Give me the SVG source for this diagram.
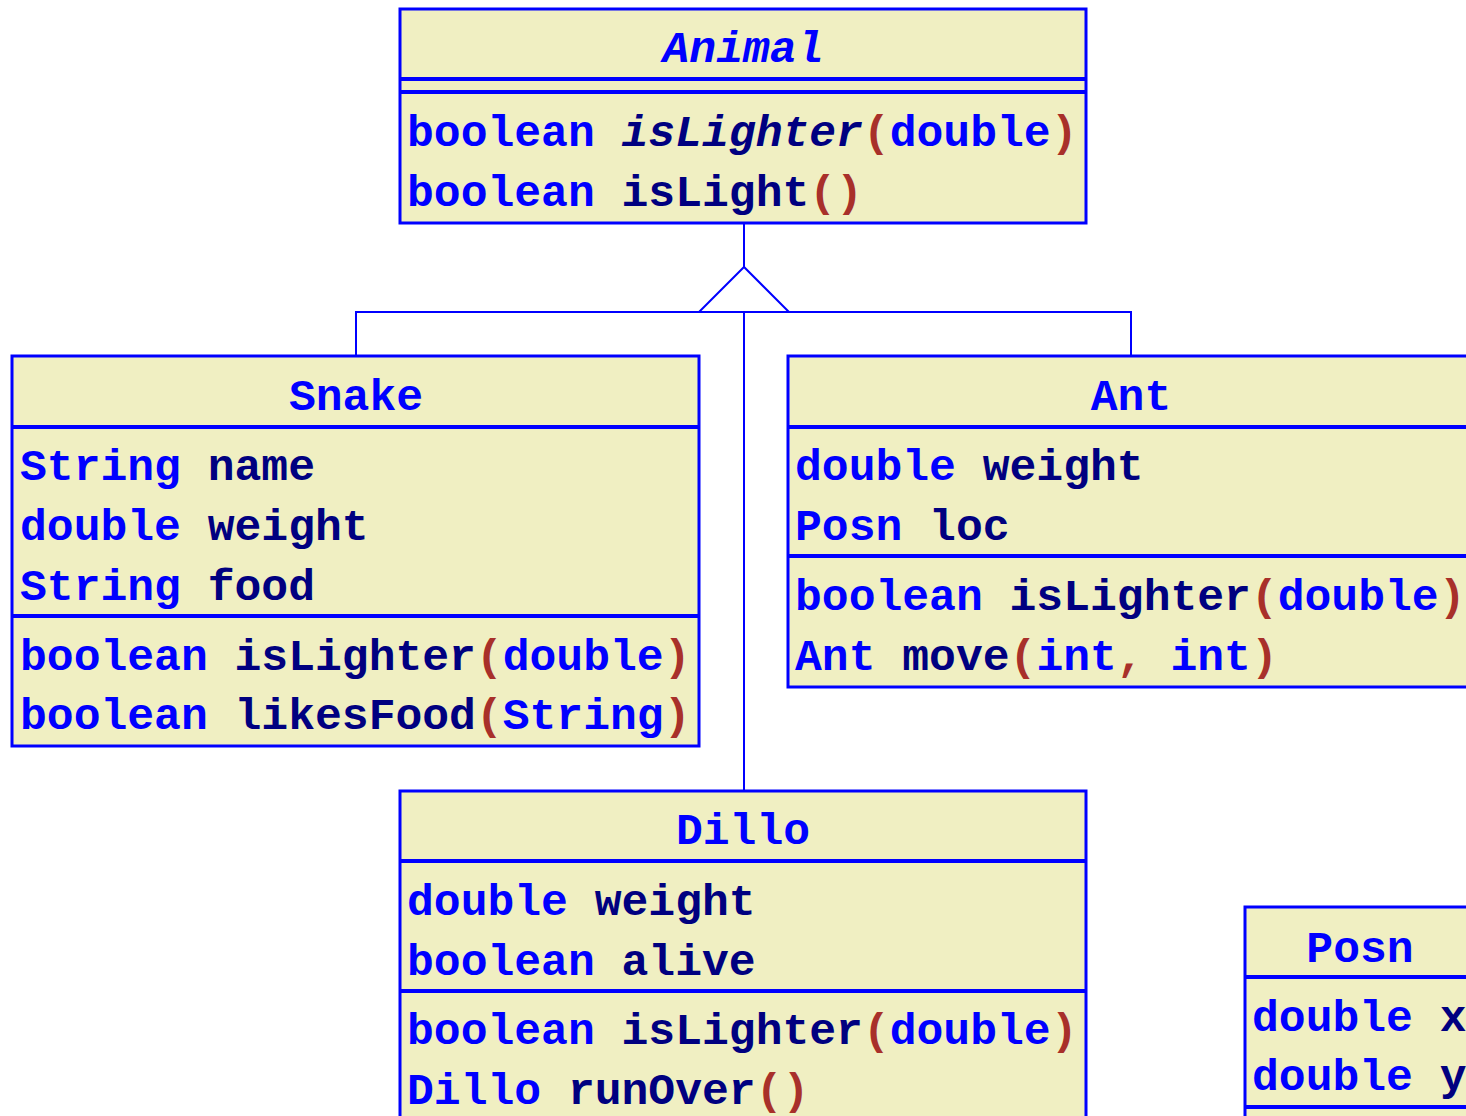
<svg xmlns="http://www.w3.org/2000/svg" width="1466" height="1116" viewBox="0 0 1466 1116">
<style>
.box{fill:#f0efc2;stroke:#0000ff;stroke-width:3}
.sep{stroke:#0000ff;stroke-width:4}
.conn{fill:none;stroke:#0000ff;stroke-width:2}
text{font-family:"Liberation Mono","Courier New",monospace;font-weight:bold;font-size:44.7px;fill:#0000ff}
.t{fill:#0000ff}
.n{fill:#000080}
.p{fill:#a8302a}
.c{text-anchor:middle}
.i{font-style:italic}
</style>
<rect width="1466" height="1116" fill="#ffffff"/>
<g id="connectors">
<line class="conn" x1="744" y1="223" x2="744" y2="267"/>
<polygon class="conn" points="744,267 699,312 789,312"/>
<polyline class="conn" points="356,356 356,312 1131,312 1131,356"/>
<line class="conn" x1="744" y1="312" x2="744" y2="791"/>
</g>
<g id="Animal">
<rect class="box" x="400" y="9" width="686" height="214"/>
<line class="sep" x1="400" y1="79" x2="1086" y2="79"/>
<line class="sep" x1="400" y1="92" x2="1086" y2="92"/>
<text class="c i" x="743" y="62">Animal</text>
<text x="407" y="146"><tspan class="t">boolean </tspan><tspan class="n i">isLighter</tspan><tspan class="p">(</tspan><tspan class="t">double</tspan><tspan class="p">)</tspan></text>
<text x="407" y="206"><tspan class="t">boolean </tspan><tspan class="n">isLight</tspan><tspan class="p">()</tspan></text>
</g>
<g id="Snake">
<rect class="box" x="12" y="356" width="687" height="390"/>
<line class="sep" x1="12" y1="427" x2="699" y2="427"/>
<line class="sep" x1="12" y1="616" x2="699" y2="616"/>
<text class="c" x="356" y="410">Snake</text>
<text x="20" y="480"><tspan class="t">String </tspan><tspan class="n">name</tspan></text>
<text x="20" y="540"><tspan class="t">double </tspan><tspan class="n">weight</tspan></text>
<text x="20" y="600"><tspan class="t">String </tspan><tspan class="n">food</tspan></text>
<text x="20" y="670"><tspan class="t">boolean </tspan><tspan class="n">isLighter</tspan><tspan class="p">(</tspan><tspan class="t">double</tspan><tspan class="p">)</tspan></text>
<text x="20" y="729"><tspan class="t">boolean </tspan><tspan class="n">likesFood</tspan><tspan class="p">(</tspan><tspan class="t">String</tspan><tspan class="p">)</tspan></text>
</g>
<g id="Ant">
<rect class="box" x="788" y="356" width="687" height="331"/>
<line class="sep" x1="788" y1="427" x2="1475" y2="427"/>
<line class="sep" x1="788" y1="556" x2="1475" y2="556"/>
<text class="c" x="1131" y="410">Ant</text>
<text x="795" y="480"><tspan class="t">double </tspan><tspan class="n">weight</tspan></text>
<text x="795" y="540"><tspan class="t">Posn </tspan><tspan class="n">loc</tspan></text>
<text x="795" y="610"><tspan class="t">boolean </tspan><tspan class="n">isLighter</tspan><tspan class="p">(</tspan><tspan class="t">double</tspan><tspan class="p">)</tspan></text>
<text x="795" y="670"><tspan class="t">Ant </tspan><tspan class="n">move</tspan><tspan class="p">(</tspan><tspan class="t">int</tspan><tspan class="p">, </tspan><tspan class="t">int</tspan><tspan class="p">)</tspan></text>
</g>
<g id="Dillo">
<rect class="box" x="400" y="791" width="686" height="340"/>
<line class="sep" x1="400" y1="861" x2="1086" y2="861"/>
<line class="sep" x1="400" y1="991" x2="1086" y2="991"/>
<text class="c" x="743" y="844">Dillo</text>
<text x="407" y="915"><tspan class="t">double </tspan><tspan class="n">weight</tspan></text>
<text x="407" y="975"><tspan class="t">boolean </tspan><tspan class="n">alive</tspan></text>
<text x="407" y="1044"><tspan class="t">boolean </tspan><tspan class="n">isLighter</tspan><tspan class="p">(</tspan><tspan class="t">double</tspan><tspan class="p">)</tspan></text>
<text x="407" y="1104"><tspan class="t">Dillo </tspan><tspan class="n">runOver</tspan><tspan class="p">()</tspan></text>
</g>
<g id="Posn">
<rect class="box" x="1245" y="907" width="230" height="230"/>
<line class="sep" x1="1245" y1="977" x2="1475" y2="977"/>
<line class="sep" x1="1245" y1="1107" x2="1475" y2="1107"/>
<text class="c" x="1360" y="962">Posn</text>
<text x="1252" y="1031"><tspan class="t">double </tspan><tspan class="n">x</tspan></text>
<text x="1252" y="1090"><tspan class="t">double </tspan><tspan class="n">y</tspan></text>
</g>
</svg>
